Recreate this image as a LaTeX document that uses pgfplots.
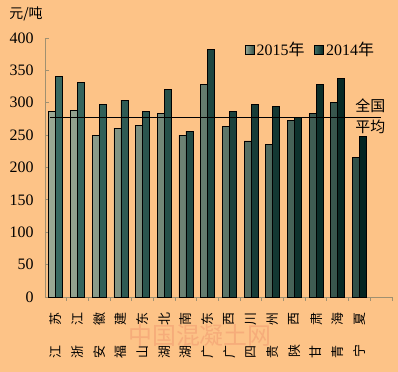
\documentclass[border=0pt]{standalone}
\usepackage{fontspec}
\setmainfont{Liberation Serif}
\newfontfamily\cjk{Noto Sans CJK SC}
\usepackage{graphicx}
\usepackage{pgfplots}
\pgfplotsset{compat=1.18}
\definecolor{bgc}{HTML}{FDC387}
\definecolor{axc}{HTML}{A09070}
\definecolor{caL}{HTML}{9AA894}
\definecolor{caR}{HTML}{2F4F47}
\definecolor{cbL}{HTML}{3A6A62}
\definecolor{cbR}{HTML}{03231F}
\definecolor{wm}{HTML}{F6AC7A}
\newcommand\vl[2]{\rotatebox[origin=c]{90}{#2}\\\rotatebox[origin=c]{90}{#1}}
\begin{document}
\begin{tikzpicture}[x=1bp,y=1bp]
\useasboundingbox (0,0) rectangle (398,372);
\fill[bgc] (0,0) rectangle (398,372);
\node[font=\cjk\fontsize{14}{14}\selectfont, inner sep=0pt] at (26,358) {元/吨};
\node[font=\cjk\fontsize{24}{24}\selectfont, text=wm, inner sep=0pt] at (200,37) {中国混凝土网};
\begin{axis}[
  at={(45bp,75bp)}, anchor=south west,
  scale only axis, width=347bp, height=259bp,
  xmin=-0.5, xmax=15.5, ymin=0, ymax=400,
  axis lines*=left,
  axis line style={axc, line width=0.9bp},
  every tick/.style={axc, line width=0.9bp},
  tick align=inside,
  major tick length=4bp, minor tick length=4bp,
  ytick={0,50,...,400},
  xtick={0,...,14},
  major x tick style={draw=none},
  minor xtick={0.5,1.5,...,15.5},
  /pgf/number format/assume math mode=true,
  yticklabel style={font=\fontsize{16}{16}\selectfont, xshift=-8bp},
  xticklabels={{\vl{江}{苏}},{\vl{浙}{江}},{\vl{安}{徽}},{\vl{福}{建}},{\vl{山}{东}},{\vl{湖}{北}},{\vl{湖}{南}},{\vl{广}{东}},{\vl{广}{西}},{\vl{四}{川}},{\vl{贵}{州}},{\vl{陕}{西}},{\vl{甘}{肃}},{\vl{青}{海}},{\vl{宁}{夏}}},
  xticklabel style={align=center, font=\cjk\fontsize{13}{33}\selectfont, anchor=north, yshift=-8bp},
  ybar=0pt, bar width=7bp,
  legend style={at={(0.765,0.954)}, anchor=center, legend columns=2, draw=none, fill=none,
    font=\fontsize{16}{16}\selectfont, /tikz/every even column/.append style={column sep=8bp}},
  legend image code/.code={\draw[#1, draw=black, line width=0.8bp] (0bp,-4.5bp) rectangle (9bp,4.5bp);},
  clip=false,
]
\addplot[draw=black, line width=0.8bp, left color=caL, right color=caR] coordinates {
(0,286) (1,288) (2,250) (3,261) (4,265) (5,284) (6,250) (7,328) (8,263) (9,241) (10,235) (11,273) (12,284) (13,301) (14,216)};
\addlegendentry{2015{\cjk 年}}
\addplot[draw=black, line width=0.8bp, left color=cbL, right color=cbR] coordinates {
(0,341) (1,331) (2,297) (3,304) (4,286) (5,320) (6,256) (7,382) (8,286) (9,298) (10,294) (11,277) (12,328) (13,337) (14,248)};
\addlegendentry{2014{\cjk 年}}
\addplot[black, line width=1.2bp, no markers, sharp plot, forget plot] coordinates {(-0.27,277) (14.99,277)};
\node[font=\cjk\fontsize{15}{21}\selectfont, align=center, inner sep=0pt] at (axis cs:14.5,279) {全国\\平均};
\end{axis}
\end{tikzpicture}
\end{document}
